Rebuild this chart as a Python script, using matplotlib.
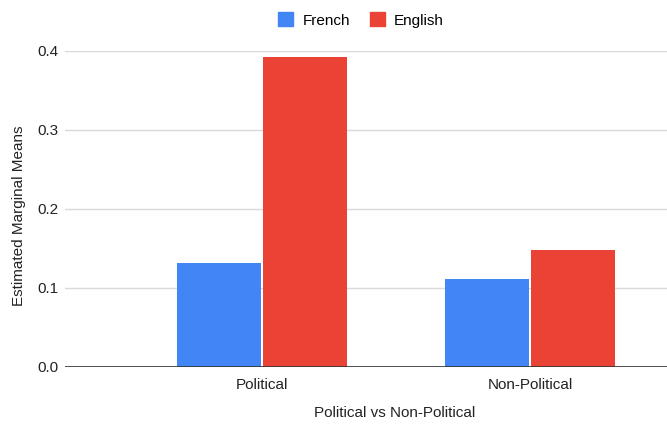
import numpy as np
import matplotlib.pyplot as plt
from matplotlib.patches import Patch

plt.rcParams["font.family"] = ["Liberation Sans", "DejaVu Sans"]

categories = ["Political", "Non-Political"]
french     = [0.131, 0.111]
english    = [0.392, 0.148]

BLUE = "#4285F4"
RED  = "#EA4335"


def main():
    fig = plt.figure(figsize=(6.67, 4.28), dpi=100)
    ax = fig.add_axes([65 / 667, (428 - 367) / 428, 602 / 667, (367 - 50.7) / 428])

    x = np.arange(len(categories))
    w = 0.313
    ax.bar(x - w / 2 - 0.004, french, w, color=BLUE, label="French", zorder=3)
    ax.bar(x + w / 2 + 0.004, english, w, color=RED, label="English", zorder=3)

    ax.set_xlim(-0.735, 1.511)
    ax.set_ylim(0, 0.4)
    ax.set_yticks([0.0, 0.1, 0.2, 0.3, 0.4])
    ax.set_yticklabels(["0.0", "0.1", "0.2", "0.3", "0.4"])
    ax.set_xticks(x)
    ax.set_xticklabels(categories)
    ax.tick_params(length=0, labelsize=11, colors="#222222")
    ax.tick_params(axis="x", pad=8)
    ax.tick_params(axis="y", pad=5)

    ax.grid(axis="y", color="#d9d9d9", linewidth=1, zorder=0)
    for s in ax.spines.values():
        s.set_visible(False)
    ax.axhline(0, color="#333333", linewidth=1.2, zorder=4)
    ax.set_ylim(0, 0.4)

    ax.set_xlabel("Political vs Non-Political", fontsize=11, color="#222222")
    ax.set_ylabel("Estimated Marginal Means", fontsize=11, color="#222222")
    ax.xaxis.set_label_coords((395 - 65) / 602, -(413 - 367) / 316.3)
    ax.yaxis.set_label_coords((19 - 65) / 602, (367 - 216) / 316.3)
    ax.xaxis.label.set_va("center")
    ax.yaxis.label.set_va("center")

    handles = [Patch(color=BLUE, label="French"), Patch(color=RED, label="English")]
    fig.legend(handles=handles, loc="center", bbox_to_anchor=(361 / 667, 1 - 20 / 428),
               ncol=2, frameon=False, fontsize=11, handlelength=1.0, handleheight=1.0,
               handletextpad=0.6, columnspacing=1.3)

    fig.savefig("out.png", dpi=100)
    plt.close(fig)


if __name__ == "__main__":
    main()
